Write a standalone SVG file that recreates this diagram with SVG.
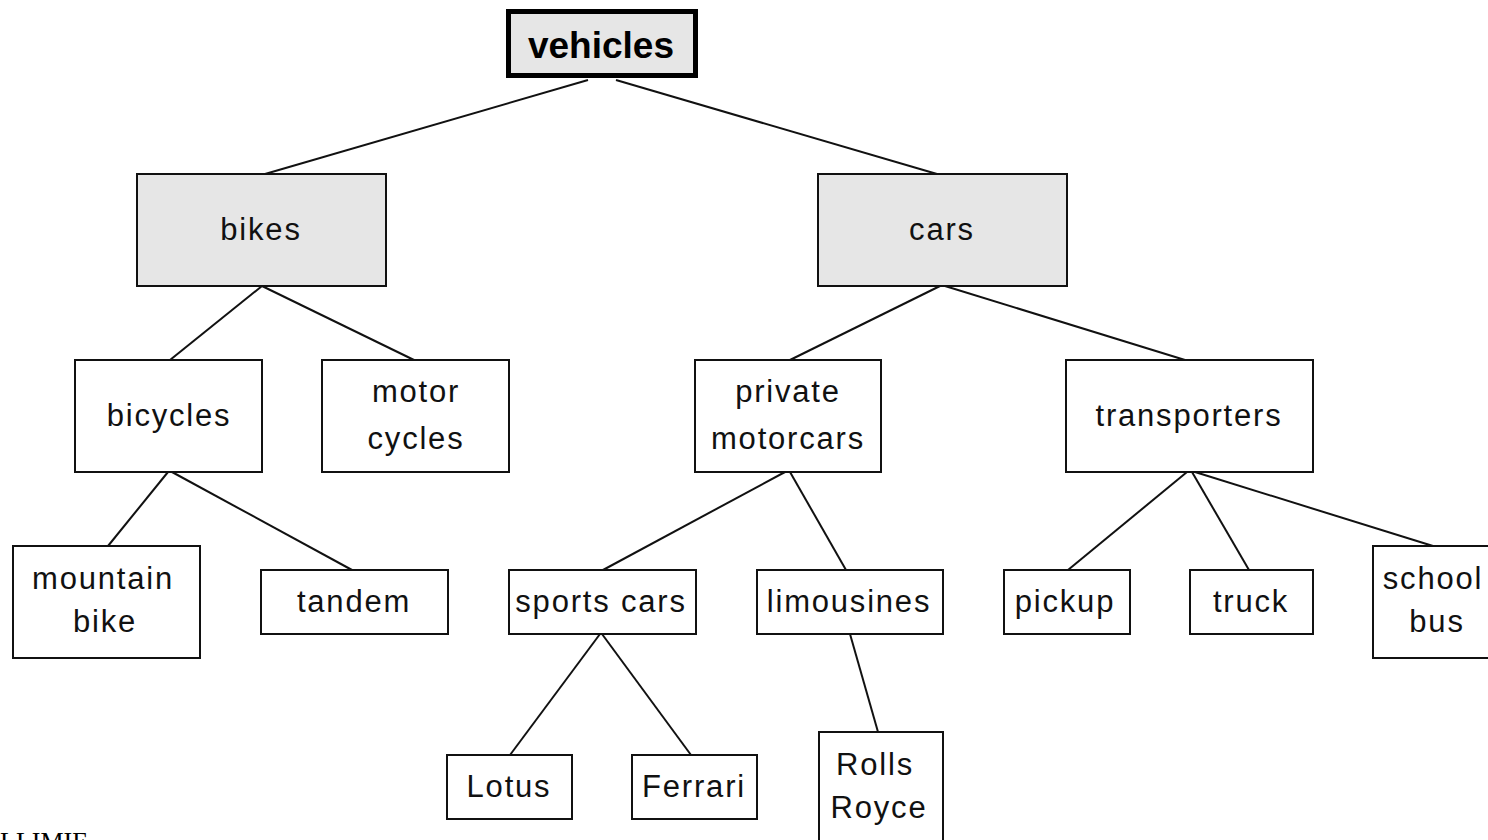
<svg xmlns="http://www.w3.org/2000/svg" width="1488" height="840" viewBox="0 0 1488 840">
  <style>
    .box { fill: #ffffff; stroke: #111111; stroke-width: 2; }
    .grey { fill: #e6e6e6; }
    .root { fill: #e6e6e6; stroke: #000000; stroke-width: 5; }
    .lbl { font-family: "Liberation Sans", Arial, sans-serif; font-size: 31px; letter-spacing: 1.8px; fill: #111111; text-anchor: middle; }
    .rootlbl { font-family: "Liberation Sans", Arial, sans-serif; font-size: 37px; font-weight: bold; fill: #000000; text-anchor: middle; }
    .edge { stroke: #111111; stroke-width: 2; fill: none; }
    .foot { font-family: "Liberation Serif", "Times New Roman", serif; font-size: 26px; fill: #000000; }
  </style>
  <rect width="1488" height="840" fill="#ffffff"/>

  <g id="connectors">
    <line class="edge" x1="588" y1="80" x2="265" y2="174"/>
    <line class="edge" x1="616" y1="80" x2="937" y2="174"/>
    <line class="edge" x1="262" y1="286" x2="170" y2="360"/>
    <line class="edge" x1="262" y1="286" x2="414" y2="360"/>
    <line class="edge" x1="940" y1="286" x2="790" y2="360"/>
    <line class="edge" x1="945" y1="286" x2="1185" y2="360"/>
    <line class="edge" x1="168" y1="472" x2="108" y2="546"/>
    <line class="edge" x1="172" y1="472" x2="352" y2="570"/>
    <line class="edge" x1="785" y1="472" x2="603" y2="570"/>
    <line class="edge" x1="790" y1="472" x2="846" y2="570"/>
    <line class="edge" x1="1187" y1="472" x2="1068" y2="570"/>
    <line class="edge" x1="1192" y1="472" x2="1249" y2="570"/>
    <line class="edge" x1="1195" y1="472" x2="1433" y2="546"/>
    <line class="edge" x1="600" y1="634" x2="510" y2="755"/>
    <line class="edge" x1="602" y1="634" x2="691" y2="755"/>
    <line class="edge" x1="850" y1="634" x2="878" y2="732"/>
  </g>

  <g id="vehicles">
    <rect class="root" x="508.5" y="11.5" width="187" height="64"/>
    <text class="rootlbl" x="601" y="58">vehicles</text>
  </g>

  <g id="bikes">
    <rect class="box grey" x="137" y="174" width="249" height="112"/>
    <text class="lbl" x="261" y="240">bikes</text>
  </g>
  <g id="cars">
    <rect class="box grey" x="818" y="174" width="249" height="112"/>
    <text class="lbl" x="942" y="240">cars</text>
  </g>

  <g id="bicycles">
    <rect class="box" x="75" y="360" width="187" height="112"/>
    <text class="lbl" x="169" y="426">bicycles</text>
  </g>
  <g id="motor-cycles">
    <rect class="box" x="322" y="360" width="187" height="112"/>
    <text class="lbl" x="416" y="402">motor</text>
    <text class="lbl" x="416" y="449">cycles</text>
  </g>
  <g id="private-motorcars">
    <rect class="box" x="695" y="360" width="186" height="112"/>
    <text class="lbl" x="788" y="402">private</text>
    <text class="lbl" x="788" y="449">motorcars</text>
  </g>
  <g id="transporters">
    <rect class="box" x="1066" y="360" width="247" height="112"/>
    <text class="lbl" x="1189" y="426">transporters</text>
  </g>

  <g id="mountain-bike">
    <rect class="box" x="13" y="546" width="187" height="112"/>
    <text class="lbl" x="103" y="589">mountain</text>
    <text class="lbl" x="105" y="632">bike</text>
  </g>
  <g id="tandem">
    <rect class="box" x="261" y="570" width="187" height="64"/>
    <text class="lbl" x="354" y="612">tandem</text>
  </g>
  <g id="sports-cars">
    <rect class="box" x="509" y="570" width="187" height="64"/>
    <text class="lbl" x="601" y="612">sports cars</text>
  </g>
  <g id="limousines">
    <rect class="box" x="757" y="570" width="186" height="64"/>
    <text class="lbl" x="849" y="612">limousines</text>
  </g>
  <g id="pickup">
    <rect class="box" x="1004" y="570" width="126" height="64"/>
    <text class="lbl" x="1065" y="612">pickup</text>
  </g>
  <g id="truck">
    <rect class="box" x="1190" y="570" width="123" height="64"/>
    <text class="lbl" x="1251" y="612">truck</text>
  </g>
  <g id="school-bus">
    <rect class="box" x="1373" y="546" width="130" height="112"/>
    <text class="lbl" x="1433" y="589">school</text>
    <text class="lbl" x="1437" y="632">bus</text>
  </g>

  <g id="lotus">
    <rect class="box" x="447" y="755" width="125" height="64"/>
    <text class="lbl" x="509" y="797">Lotus</text>
  </g>
  <g id="ferrari">
    <rect class="box" x="632" y="755" width="125" height="64"/>
    <text class="lbl" x="694" y="797">Ferrari</text>
  </g>
  <g id="rolls-royce">
    <rect class="box" x="819" y="732" width="124" height="120"/>
    <text class="lbl" x="875" y="775">Rolls</text>
    <text class="lbl" x="879" y="818">Royce</text>
  </g>

  <!-- caption line below the frame; only its top edge falls inside the canvas -->
  <text class="foot" x="0" y="850">LLIMIE</text>
</svg>
